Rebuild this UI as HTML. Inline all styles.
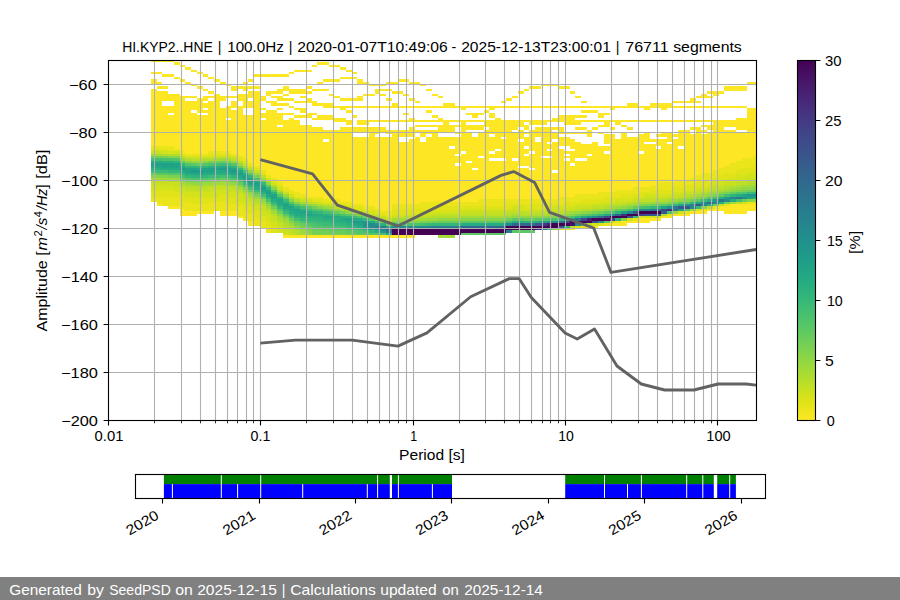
<!DOCTYPE html>
<html><head><meta charset="utf-8"><title>PPSD HI.KYP2..HNE</title>
<style>
html,body{margin:0;padding:0;background:#fff;overflow:hidden}
svg{display:block}
text{font-family:"Liberation Sans",sans-serif;white-space:pre}
</style></head>
<body>
<svg width="900" height="600" viewBox="0 0 900 600">
<defs>
<clipPath id="axclip"><rect x="108.5" y="60.5" width="648" height="360"/></clipPath>
<linearGradient id="cbar" x1="0" y1="0" x2="0" y2="1"><stop offset="0.000" stop-color="#440154"/><stop offset="0.050" stop-color="#471365"/><stop offset="0.100" stop-color="#482475"/><stop offset="0.150" stop-color="#463480"/><stop offset="0.200" stop-color="#414487"/><stop offset="0.250" stop-color="#3b518b"/><stop offset="0.300" stop-color="#355f8d"/><stop offset="0.350" stop-color="#2f6c8e"/><stop offset="0.400" stop-color="#2a788e"/><stop offset="0.450" stop-color="#25848e"/><stop offset="0.500" stop-color="#21908d"/><stop offset="0.550" stop-color="#1e9c89"/><stop offset="0.600" stop-color="#22a884"/><stop offset="0.650" stop-color="#2fb47c"/><stop offset="0.700" stop-color="#44bf70"/><stop offset="0.750" stop-color="#5cc863"/><stop offset="0.800" stop-color="#7ad151"/><stop offset="0.850" stop-color="#9bd93c"/><stop offset="0.900" stop-color="#bddf26"/><stop offset="0.950" stop-color="#dfe318"/><stop offset="1.000" stop-color="#fde725"/></linearGradient>
</defs>
<rect width="900" height="600" fill="#fff"/>
<g shape-rendering="crispEdges" clip-path="url(#axclip)">
<path fill="#fde725" d="M151.00 60.00h22.93v2.40h-22.93zM173.93 62.40h5.73v2.40h-5.73zM317.27 62.40h11.47v2.40h-11.47zM179.67 64.80h5.73v2.40h-5.73zM311.54 64.80h5.73v2.40h-5.73zM328.74 64.80h11.47v2.40h-11.47zM185.40 67.20h5.73v2.40h-5.73zM340.20 67.20h5.73v2.40h-5.73zM191.13 69.60h5.73v2.40h-5.73zM294.34 69.60h17.20v2.40h-17.20zM345.94 69.60h5.73v2.40h-5.73zM151.00 72.00h11.47v2.40h-11.47zM196.87 72.00h5.73v2.40h-5.73zM288.60 72.00h5.73v2.40h-5.73zM351.67 72.00h5.73v2.40h-5.73zM162.47 74.40h11.47v2.40h-11.47zM202.60 74.40h5.73v2.40h-5.73zM254.20 74.40h34.40v2.40h-34.40zM173.93 76.80h5.73v2.40h-5.73zM208.34 76.80h5.73v2.40h-5.73zM340.20 76.80h17.20v2.40h-17.20zM151.00 79.20h5.73v2.40h-5.73zM179.67 79.20h5.73v2.40h-5.73zM214.07 79.20h5.73v2.40h-5.73zM248.47 79.20h5.73v2.40h-5.73zM323.00 79.20h17.20v2.40h-17.20zM357.40 79.20h5.73v2.40h-5.73zM397.54 79.20h11.47v2.40h-11.47zM151.00 81.60h11.47v2.40h-11.47zM185.40 81.60h5.73v2.40h-5.73zM219.80 81.60h5.73v2.40h-5.73zM242.74 81.60h5.73v2.40h-5.73zM317.27 81.60h5.73v2.40h-5.73zM357.40 81.60h11.47v2.40h-11.47zM386.07 81.60h11.47v2.40h-11.47zM409.01 81.60h11.47v2.40h-11.47zM747.28 81.60h11.47v2.40h-11.47zM191.13 84.00h5.73v2.40h-5.73zM225.54 84.00h5.73v2.40h-5.73zM368.87 84.00h17.20v2.40h-17.20zM420.47 84.00h5.73v2.40h-5.73zM540.87 84.00h17.20v2.40h-17.20zM156.73 86.40h11.47v2.40h-11.47zM196.87 86.40h5.73v2.40h-5.73zM231.27 86.40h28.67v2.40h-28.67zM282.87 86.40h5.73v2.40h-5.73zM305.80 86.40h5.73v2.40h-5.73zM529.41 86.40h11.47v2.40h-11.47zM558.07 86.40h11.47v2.40h-11.47zM724.34 86.40h22.93v2.40h-22.93zM151.00 88.80h5.73v2.40h-5.73zM202.60 88.80h5.73v2.40h-5.73zM231.27 88.80h5.73v2.40h-5.73zM242.74 88.80h5.73v2.40h-5.73zM277.14 88.80h28.67v2.40h-28.67zM311.54 88.80h17.20v2.40h-17.20zM374.60 88.80h17.20v2.40h-17.20zM426.21 88.80h5.73v2.40h-5.73zM523.67 88.80h5.73v2.40h-5.73zM724.34 88.80h22.93v2.40h-22.93zM151.00 91.20h17.20v2.40h-17.20zM208.34 91.20h5.73v2.40h-5.73zM248.47 91.20h11.47v2.40h-11.47zM265.67 91.20h17.20v2.40h-17.20zM288.60 91.20h22.93v2.40h-22.93zM374.60 91.20h5.73v2.40h-5.73zM391.80 91.20h11.47v2.40h-11.47zM517.94 91.20h5.73v2.40h-5.73zM569.54 91.20h5.73v2.40h-5.73zM707.14 91.20h17.20v2.40h-17.20zM151.00 93.60h28.67v2.40h-28.67zM214.07 93.60h5.73v2.40h-5.73zM237.00 93.60h22.93v2.40h-22.93zM265.67 93.60h5.73v2.40h-5.73zM282.87 93.60h5.73v2.40h-5.73zM328.74 93.60h5.73v2.40h-5.73zM363.14 93.60h11.47v2.40h-11.47zM380.34 93.60h5.73v2.40h-5.73zM403.27 93.60h5.73v2.40h-5.73zM431.94 93.60h5.73v2.40h-5.73zM701.41 93.60h5.73v2.40h-5.73zM712.88 93.60h5.73v2.40h-5.73zM151.00 96.00h45.87v2.40h-45.87zM202.60 96.00h63.07v2.40h-63.07zM271.40 96.00h11.47v2.40h-11.47zM300.07 96.00h5.73v2.40h-5.73zM334.47 96.00h5.73v2.40h-5.73zM357.40 96.00h5.73v2.40h-5.73zM437.67 96.00h5.73v2.40h-5.73zM512.21 96.00h5.73v2.40h-5.73zM575.27 96.00h5.73v2.40h-5.73zM695.68 96.00h17.20v2.40h-17.20zM151.00 98.40h34.40v2.40h-34.40zM196.87 98.40h11.47v2.40h-11.47zM214.07 98.40h11.47v2.40h-11.47zM237.00 98.40h11.47v2.40h-11.47zM254.20 98.40h11.47v2.40h-11.47zM277.14 98.40h17.20v2.40h-17.20zM305.80 98.40h5.73v2.40h-5.73zM340.20 98.40h22.93v2.40h-22.93zM386.07 98.40h5.73v2.40h-5.73zM409.01 98.40h5.73v2.40h-5.73zM506.47 98.40h5.73v2.40h-5.73zM689.94 98.40h5.73v2.40h-5.73zM151.00 100.80h11.47v2.40h-11.47zM173.93 100.80h28.67v2.40h-28.67zM208.34 100.80h11.47v2.40h-11.47zM231.27 100.80h5.73v2.40h-5.73zM242.74 100.80h17.20v2.40h-17.20zM265.67 100.80h11.47v2.40h-11.47zM294.34 100.80h22.93v2.40h-22.93zM414.74 100.80h5.73v2.40h-5.73zM500.74 100.80h5.73v2.40h-5.73zM581.01 100.80h5.73v2.40h-5.73zM672.74 100.80h28.67v2.40h-28.67zM151.00 103.20h11.47v2.40h-11.47zM173.93 103.20h45.87v2.40h-45.87zM231.27 103.20h5.73v2.40h-5.73zM242.74 103.20h17.20v2.40h-17.20zM271.40 103.20h17.20v2.40h-17.20zM311.54 103.20h22.93v2.40h-22.93zM391.80 103.20h5.73v2.40h-5.73zM443.41 103.20h11.47v2.40h-11.47zM626.88 103.20h11.47v2.40h-11.47zM649.81 103.20h22.93v2.40h-22.93zM151.00 105.60h68.80v2.40h-68.80zM225.54 105.60h34.40v2.40h-34.40zM288.60 105.60h5.73v2.40h-5.73zM323.00 105.60h424.27v2.40h-424.27zM151.00 108.00h51.60v2.40h-51.60zM208.34 108.00h22.93v2.40h-22.93zM237.00 108.00h5.73v2.40h-5.73zM254.20 108.00h11.47v2.40h-11.47zM277.14 108.00h5.73v2.40h-5.73zM294.34 108.00h11.47v2.40h-11.47zM340.20 108.00h5.73v2.40h-5.73zM460.61 108.00h5.73v2.40h-5.73zM489.27 108.00h5.73v2.40h-5.73zM609.68 108.00h5.73v2.40h-5.73zM644.08 108.00h5.73v2.40h-5.73zM661.28 108.00h5.73v2.40h-5.73zM747.28 108.00h11.47v2.40h-11.47zM151.00 110.40h40.13v2.40h-40.13zM196.87 110.40h45.87v2.40h-45.87zM254.20 110.40h5.73v2.40h-5.73zM265.67 110.40h11.47v2.40h-11.47zM300.07 110.40h5.73v2.40h-5.73zM345.94 110.40h5.73v2.40h-5.73zM426.21 110.40h5.73v2.40h-5.73zM483.54 110.40h5.73v2.40h-5.73zM581.01 110.40h17.20v2.40h-17.20zM747.28 110.40h11.47v2.40h-11.47zM151.00 112.80h17.20v2.40h-17.20zM173.93 112.80h22.93v2.40h-22.93zM208.34 112.80h34.40v2.40h-34.40zM254.20 112.80h40.13v2.40h-40.13zM305.80 112.80h11.47v2.40h-11.47zM403.27 112.80h5.73v2.40h-5.73zM466.34 112.80h17.20v2.40h-17.20zM489.27 112.80h5.73v2.40h-5.73zM598.21 112.80h11.47v2.40h-11.47zM747.28 112.80h11.47v2.40h-11.47zM151.00 115.20h131.87v2.40h-131.87zM294.34 115.20h17.20v2.40h-17.20zM317.27 115.20h17.20v2.40h-17.20zM351.67 115.20h5.73v2.40h-5.73zM431.94 115.20h5.73v2.40h-5.73zM472.07 115.20h5.73v2.40h-5.73zM489.27 115.20h5.73v2.40h-5.73zM558.07 115.20h28.67v2.40h-28.67zM598.21 115.20h5.73v2.40h-5.73zM747.28 115.20h11.47v2.40h-11.47zM151.00 117.60h74.53v2.40h-74.53zM231.27 117.60h28.67v2.40h-28.67zM265.67 117.60h17.20v2.40h-17.20zM288.60 117.60h5.73v2.40h-5.73zM311.54 117.60h34.40v2.40h-34.40zM409.01 117.60h5.73v2.40h-5.73zM437.67 117.60h5.73v2.40h-5.73zM495.01 117.60h5.73v2.40h-5.73zM552.34 117.60h22.93v2.40h-22.93zM735.81 117.60h22.93v2.40h-22.93zM151.00 120.00h149.07v2.40h-149.07zM334.47 120.00h17.20v2.40h-17.20zM357.40 120.00h401.34v2.40h-401.34zM151.00 122.40h149.07v2.40h-149.07zM345.94 122.40h5.73v2.40h-5.73zM357.40 122.40h11.47v2.40h-11.47zM443.41 122.40h5.73v2.40h-5.73zM460.61 122.40h5.73v2.40h-5.73zM483.54 122.40h40.13v2.40h-40.13zM529.41 122.40h17.20v2.40h-17.20zM563.81 122.40h17.20v2.40h-17.20zM603.94 122.40h5.73v2.40h-5.73zM615.41 122.40h5.73v2.40h-5.73zM712.88 122.40h45.87v2.40h-45.87zM151.00 124.80h126.14v2.40h-126.14zM282.87 124.80h28.67v2.40h-28.67zM414.74 124.80h114.67v2.40h-114.67zM598.21 124.80h11.47v2.40h-11.47zM621.14 124.80h5.73v2.40h-5.73zM701.41 124.80h57.33v2.40h-57.33zM151.00 127.20h172.00v2.40h-172.00zM340.20 127.20h45.87v2.40h-45.87zM409.01 127.20h5.73v2.40h-5.73zM437.67 127.20h17.20v2.40h-17.20zM460.61 127.20h22.93v2.40h-22.93zM489.27 127.20h28.67v2.40h-28.67zM523.67 127.20h5.73v2.40h-5.73zM535.14 127.20h28.67v2.40h-28.67zM575.27 127.20h11.47v2.40h-11.47zM592.47 127.20h5.73v2.40h-5.73zM609.68 127.20h5.73v2.40h-5.73zM626.88 127.20h5.73v2.40h-5.73zM689.94 127.20h11.47v2.40h-11.47zM707.14 127.20h17.20v2.40h-17.20zM735.81 127.20h22.93v2.40h-22.93zM151.00 129.60h303.87v2.40h-303.87zM460.61 129.60h5.73v2.40h-5.73zM483.54 129.60h28.67v2.40h-28.67zM517.94 129.60h5.73v2.40h-5.73zM529.41 129.60h22.93v2.40h-22.93zM558.07 129.60h5.73v2.40h-5.73zM586.74 129.60h5.73v2.40h-5.73zM678.48 129.60h11.47v2.40h-11.47zM695.68 129.60h11.47v2.40h-11.47zM712.88 129.60h22.93v2.40h-22.93zM747.28 129.60h11.47v2.40h-11.47zM151.00 132.00h200.67v2.40h-200.67zM368.87 132.00h11.47v2.40h-11.47zM386.07 132.00h28.67v2.40h-28.67zM420.47 132.00h17.20v2.40h-17.20zM454.87 132.00h17.20v2.40h-17.20zM477.81 132.00h114.67v2.40h-114.67zM598.21 132.00h5.73v2.40h-5.73zM621.14 132.00h5.73v2.40h-5.73zM644.08 132.00h5.73v2.40h-5.73zM661.28 132.00h11.47v2.40h-11.47zM678.48 132.00h11.47v2.40h-11.47zM695.68 132.00h5.73v2.40h-5.73zM707.14 132.00h51.60v2.40h-51.60zM151.00 134.40h200.67v2.40h-200.67zM368.87 134.40h5.73v2.40h-5.73zM391.80 134.40h22.93v2.40h-22.93zM420.47 134.40h5.73v2.40h-5.73zM431.94 134.40h5.73v2.40h-5.73zM460.61 134.40h11.47v2.40h-11.47zM477.81 134.40h11.47v2.40h-11.47zM495.01 134.40h28.67v2.40h-28.67zM529.41 134.40h28.67v2.40h-28.67zM586.74 134.40h5.73v2.40h-5.73zM603.94 134.40h11.47v2.40h-11.47zM621.14 134.40h5.73v2.40h-5.73zM638.34 134.40h11.47v2.40h-11.47zM655.54 134.40h103.20v2.40h-103.20zM151.00 136.80h246.54v2.40h-246.54zM414.74 136.80h5.73v2.40h-5.73zM426.21 136.80h74.53v2.40h-74.53zM506.47 136.80h28.67v2.40h-28.67zM540.87 136.80h28.67v2.40h-28.67zM603.94 136.80h11.47v2.40h-11.47zM621.14 136.80h28.67v2.40h-28.67zM667.01 136.80h5.73v2.40h-5.73zM678.48 136.80h80.27v2.40h-80.27zM151.00 139.20h172.00v2.40h-172.00zM328.74 139.20h68.80v2.40h-68.80zM409.01 139.20h11.47v2.40h-11.47zM426.21 139.20h91.73v2.40h-91.73zM523.67 139.20h11.47v2.40h-11.47zM540.87 139.20h11.47v2.40h-11.47zM558.07 139.20h17.20v2.40h-17.20zM603.94 139.20h154.80v2.40h-154.80zM151.00 141.60h395.61v2.40h-395.61zM552.34 141.60h28.67v2.40h-28.67zM592.47 141.60h5.73v2.40h-5.73zM603.94 141.60h40.13v2.40h-40.13zM655.54 141.60h11.47v2.40h-11.47zM672.74 141.60h86.00v2.40h-86.00zM151.00 144.00h447.21v2.40h-447.21zM609.68 144.00h149.07v2.40h-149.07zM151.00 146.40h298.14v2.40h-298.14zM454.87 146.40h68.80v2.40h-68.80zM529.41 146.40h28.67v2.40h-28.67zM569.54 146.40h86.00v2.40h-86.00zM661.28 146.40h17.20v2.40h-17.20zM684.21 146.40h74.53v2.40h-74.53zM151.00 148.80h344.01v2.40h-344.01zM500.74 148.80h45.87v2.40h-45.87zM552.34 148.80h11.47v2.40h-11.47zM575.27 148.80h183.47v2.40h-183.47zM151.00 151.20h309.61v2.40h-309.61zM466.34 151.20h22.93v2.40h-22.93zM495.01 151.20h34.40v2.40h-34.40zM535.14 151.20h68.80v2.40h-68.80zM609.68 151.20h28.67v2.40h-28.67zM644.08 151.20h114.67v2.40h-114.67zM151.00 153.60h303.87v2.40h-303.87zM460.61 153.60h63.07v2.40h-63.07zM529.41 153.60h34.40v2.40h-34.40zM569.54 153.60h17.20v2.40h-17.20zM592.47 153.60h166.27v2.40h-166.27zM151.00 156.00h326.81v2.40h-326.81zM483.54 156.00h57.33v2.40h-57.33zM552.34 156.00h206.40v2.40h-206.40zM151.00 158.40h338.27v2.40h-338.27zM506.47 158.40h5.73v2.40h-5.73zM517.94 158.40h45.87v2.40h-45.87zM569.54 158.40h5.73v2.40h-5.73zM586.74 158.40h172.00v2.40h-172.00zM151.00 160.80h315.34v2.40h-315.34zM472.07 160.80h286.67v2.40h-286.67zM151.00 163.20h303.87v2.40h-303.87zM460.61 163.20h108.94v2.40h-108.94zM575.27 163.20h183.47v2.40h-183.47zM151.00 165.60h366.94v2.40h-366.94zM529.41 165.60h229.34v2.40h-229.34zM151.00 168.00h321.07v2.40h-321.07zM477.81 168.00h51.60v2.40h-51.60zM535.14 168.00h223.60v2.40h-223.60zM151.00 170.40h401.34v2.40h-401.34zM558.07 170.40h200.67v2.40h-200.67zM151.00 172.80h607.74v2.40h-607.74zM151.00 175.20h607.74v2.40h-607.74zM151.00 177.60h607.74v2.40h-607.74zM151.00 180.00h607.74v2.40h-607.74zM151.00 182.40h607.74v2.40h-607.74zM151.00 184.80h607.74v2.40h-607.74zM151.00 187.20h607.74v2.40h-607.74zM151.00 189.60h607.74v2.40h-607.74zM151.00 192.00h607.74v2.40h-607.74zM151.00 194.40h607.74v2.40h-607.74zM151.00 196.80h607.74v2.40h-607.74zM151.00 199.20h607.74v2.40h-607.74zM156.73 201.60h602.01v2.40h-602.01zM156.73 204.00h602.01v2.40h-602.01zM168.20 206.40h590.54v2.40h-590.54zM179.67 208.80h579.08v2.40h-579.08zM179.67 211.20h34.40v2.40h-34.40zM219.80 211.20h487.34v2.40h-487.34zM724.34 211.20h22.93v2.40h-22.93zM179.67 213.60h17.20v2.40h-17.20zM219.80 213.60h470.14v2.40h-470.14zM237.00 216.00h435.74v2.40h-435.74zM242.74 218.40h418.54v2.40h-418.54zM248.47 220.80h401.34v2.40h-401.34zM248.47 223.20h378.41v2.40h-378.41zM259.94 225.60h338.27v2.40h-338.27zM265.67 228.00h309.61v2.40h-309.61zM265.67 230.40h269.47v2.40h-269.47zM282.87 232.80h223.60v2.40h-223.60zM282.87 235.20h131.87v2.40h-131.87zM437.67 235.20h17.20v2.40h-17.20z"/>
<path fill="#eae51a" d="M151.00 146.40h22.93v2.40h-22.93zM168.20 148.80h11.47v2.40h-11.47zM179.67 151.20h5.73v2.40h-5.73zM208.34 151.20h22.93v2.40h-22.93zM185.40 153.60h22.93v2.40h-22.93zM231.27 153.60h5.73v2.40h-5.73zM237.00 156.00h5.73v2.40h-5.73zM753.01 156.00h5.73v2.40h-5.73zM242.74 158.40h5.73v2.40h-5.73zM741.54 158.40h17.20v2.40h-17.20zM735.81 160.80h22.93v2.40h-22.93zM248.47 163.20h5.73v2.40h-5.73zM730.08 163.20h28.67v2.40h-28.67zM254.20 165.60h5.73v2.40h-5.73zM724.34 165.60h28.67v2.40h-28.67zM718.61 168.00h22.93v2.40h-22.93zM259.94 170.40h5.73v2.40h-5.73zM712.88 170.40h22.93v2.40h-22.93zM701.41 172.80h22.93v2.40h-22.93zM265.67 175.20h5.73v2.40h-5.73zM695.68 175.20h22.93v2.40h-22.93zM271.40 177.60h5.73v2.40h-5.73zM689.94 177.60h22.93v2.40h-22.93zM271.40 180.00h5.73v2.40h-5.73zM678.48 180.00h22.93v2.40h-22.93zM277.14 182.40h5.73v2.40h-5.73zM655.54 182.40h40.13v2.40h-40.13zM649.81 184.80h34.40v2.40h-34.40zM282.87 187.20h5.73v2.40h-5.73zM632.61 187.20h40.13v2.40h-40.13zM288.60 189.60h5.73v2.40h-5.73zM615.41 189.60h34.40v2.40h-34.40zM288.60 192.00h11.47v2.40h-11.47zM598.21 192.00h40.13v2.40h-40.13zM294.34 194.40h11.47v2.40h-11.47zM575.27 194.40h45.87v2.40h-45.87zM151.00 196.80h28.67v2.40h-28.67zM305.80 196.80h17.20v2.40h-17.20zM558.07 196.80h45.87v2.40h-45.87zM151.00 199.20h28.67v2.40h-28.67zM323.00 199.20h17.20v2.40h-17.20zM477.81 199.20h103.20v2.40h-103.20zM156.73 201.60h34.40v2.40h-34.40zM208.34 201.60h17.20v2.40h-17.20zM334.47 201.60h17.20v2.40h-17.20zM420.47 201.60h143.34v2.40h-143.34zM747.28 201.60h11.47v2.40h-11.47zM162.47 204.00h74.53v2.40h-74.53zM345.94 204.00h17.20v2.40h-17.20zM391.80 204.00h114.67v2.40h-114.67zM724.34 204.00h5.73v2.40h-5.73zM179.67 206.40h63.07v2.40h-63.07zM363.14 206.40h11.47v2.40h-11.47zM391.80 206.40h40.13v2.40h-40.13zM712.88 206.40h5.73v2.40h-5.73zM185.40 208.80h57.33v2.40h-57.33zM374.60 208.80h5.73v2.40h-5.73zM701.41 208.80h5.73v2.40h-5.73zM237.00 211.20h11.47v2.40h-11.47zM380.34 211.20h11.47v2.40h-11.47zM684.21 211.20h5.73v2.40h-5.73zM237.00 213.60h17.20v2.40h-17.20zM386.07 213.60h5.73v2.40h-5.73zM667.01 213.60h5.73v2.40h-5.73zM242.74 216.00h11.47v2.40h-11.47zM248.47 218.40h11.47v2.40h-11.47zM632.61 218.40h5.73v2.40h-5.73zM254.20 220.80h11.47v2.40h-11.47zM615.41 220.80h5.73v2.40h-5.73zM254.20 223.20h11.47v2.40h-11.47zM603.94 223.20h5.73v2.40h-5.73zM259.94 225.60h11.47v2.40h-11.47zM581.01 225.60h5.73v2.40h-5.73zM265.67 228.00h5.73v2.40h-5.73zM563.81 228.00h5.73v2.40h-5.73zM265.67 230.40h5.73v2.40h-5.73z"/>
<path fill="#dfe318" d="M151.00 148.80h17.20v2.40h-17.20zM179.67 153.60h5.73v2.40h-5.73zM208.34 153.60h22.93v2.40h-22.93zM196.87 156.00h5.73v2.40h-5.73zM237.00 158.40h5.73v2.40h-5.73zM242.74 160.80h5.73v2.40h-5.73zM753.01 165.60h5.73v2.40h-5.73zM254.20 168.00h5.73v2.40h-5.73zM741.54 168.00h17.20v2.40h-17.20zM735.81 170.40h22.93v2.40h-22.93zM259.94 172.80h5.73v2.40h-5.73zM724.34 172.80h22.93v2.40h-22.93zM718.61 175.20h17.20v2.40h-17.20zM712.88 177.60h17.20v2.40h-17.20zM701.41 180.00h17.20v2.40h-17.20zM695.68 182.40h17.20v2.40h-17.20zM277.14 184.80h5.73v2.40h-5.73zM684.21 184.80h22.93v2.40h-22.93zM672.74 187.20h22.93v2.40h-22.93zM151.00 189.60h22.93v2.40h-22.93zM282.87 189.60h5.73v2.40h-5.73zM649.81 189.60h34.40v2.40h-34.40zM151.00 192.00h28.67v2.40h-28.67zM638.34 192.00h34.40v2.40h-34.40zM151.00 194.40h34.40v2.40h-34.40zM219.80 194.40h5.73v2.40h-5.73zM621.14 194.40h22.93v2.40h-22.93zM179.67 196.80h57.33v2.40h-57.33zM300.07 196.80h5.73v2.40h-5.73zM603.94 196.80h28.67v2.40h-28.67zM179.67 199.20h57.33v2.40h-57.33zM311.54 199.20h11.47v2.40h-11.47zM581.01 199.20h34.40v2.40h-34.40zM191.13 201.60h17.20v2.40h-17.20zM225.54 201.60h17.20v2.40h-17.20zM323.00 201.60h11.47v2.40h-11.47zM563.81 201.60h34.40v2.40h-34.40zM237.00 204.00h11.47v2.40h-11.47zM340.20 204.00h5.73v2.40h-5.73zM506.47 204.00h68.80v2.40h-68.80zM242.74 206.40h11.47v2.40h-11.47zM351.67 206.40h11.47v2.40h-11.47zM431.94 206.40h80.27v2.40h-80.27zM523.67 206.40h28.67v2.40h-28.67zM242.74 208.80h11.47v2.40h-11.47zM363.14 208.80h11.47v2.40h-11.47zM391.80 208.80h68.80v2.40h-68.80zM695.68 208.80h5.73v2.40h-5.73zM248.47 211.20h11.47v2.40h-11.47zM374.60 211.20h5.73v2.40h-5.73zM391.80 211.20h28.67v2.40h-28.67zM254.20 213.60h5.73v2.40h-5.73zM380.34 213.60h5.73v2.40h-5.73zM254.20 216.00h11.47v2.40h-11.47zM386.07 216.00h5.73v2.40h-5.73zM259.94 218.40h5.73v2.40h-5.73zM265.67 220.80h5.73v2.40h-5.73zM265.67 223.20h5.73v2.40h-5.73zM598.21 223.20h5.73v2.40h-5.73zM271.40 225.60h5.73v2.40h-5.73zM575.27 225.60h5.73v2.40h-5.73zM271.40 228.00h5.73v2.40h-5.73zM271.40 230.40h5.73v2.40h-5.73z"/>
<path fill="#c8e020" d="M151.00 151.20h11.47v2.40h-11.47zM214.07 156.00h17.20v2.40h-17.20zM242.74 163.20h5.73v2.40h-5.73zM254.20 170.40h5.73v2.40h-5.73zM747.28 177.60h11.47v2.40h-11.47zM735.81 180.00h11.47v2.40h-11.47zM151.00 182.40h28.67v2.40h-28.67zM724.34 182.40h11.47v2.40h-11.47zM173.93 184.80h5.73v2.40h-5.73zM712.88 184.80h11.47v2.40h-11.47zM179.67 187.20h5.73v2.40h-5.73zM208.34 187.20h22.93v2.40h-22.93zM707.14 187.20h5.73v2.40h-5.73zM185.40 189.60h28.67v2.40h-28.67zM225.54 189.60h11.47v2.40h-11.47zM695.68 189.60h11.47v2.40h-11.47zM237.00 192.00h5.73v2.40h-5.73zM282.87 192.00h5.73v2.40h-5.73zM684.21 192.00h11.47v2.40h-11.47zM242.74 194.40h5.73v2.40h-5.73zM672.74 194.40h11.47v2.40h-11.47zM242.74 196.80h5.73v2.40h-5.73zM644.08 196.80h22.93v2.40h-22.93zM248.47 199.20h5.73v2.40h-5.73zM300.07 199.20h5.73v2.40h-5.73zM632.61 199.20h5.73v2.40h-5.73zM311.54 201.60h5.73v2.40h-5.73zM615.41 201.60h11.47v2.40h-11.47zM254.20 204.00h5.73v2.40h-5.73zM328.74 204.00h5.73v2.40h-5.73zM592.47 204.00h17.20v2.40h-17.20zM259.94 206.40h5.73v2.40h-5.73zM340.20 206.40h5.73v2.40h-5.73zM575.27 206.40h17.20v2.40h-17.20zM259.94 208.80h5.73v2.40h-5.73zM351.67 208.80h5.73v2.40h-5.73zM512.21 208.80h5.73v2.40h-5.73zM546.61 208.80h28.67v2.40h-28.67zM265.67 211.20h5.73v2.40h-5.73zM363.14 211.20h5.73v2.40h-5.73zM460.61 211.20h45.87v2.40h-45.87zM529.41 211.20h5.73v2.40h-5.73zM374.60 213.60h5.73v2.40h-5.73zM420.47 213.60h17.20v2.40h-17.20zM271.40 216.00h5.73v2.40h-5.73zM380.34 216.00h5.73v2.40h-5.73zM391.80 216.00h11.47v2.40h-11.47zM271.40 218.40h5.73v2.40h-5.73zM386.07 218.40h5.73v2.40h-5.73zM277.14 223.20h5.73v2.40h-5.73zM282.87 228.00h5.73v2.40h-5.73zM282.87 230.40h5.73v2.40h-5.73zM288.60 232.80h5.73v2.40h-5.73z"/>
<path fill="#d2e21b" d="M162.47 151.20h17.20v2.40h-17.20zM185.40 156.00h11.47v2.40h-11.47zM202.60 156.00h11.47v2.40h-11.47zM231.27 156.00h5.73v2.40h-5.73zM248.47 165.60h5.73v2.40h-5.73zM747.28 172.80h11.47v2.40h-11.47zM735.81 175.20h22.93v2.40h-22.93zM265.67 177.60h5.73v2.40h-5.73zM730.08 177.60h17.20v2.40h-17.20zM718.61 180.00h17.20v2.40h-17.20zM271.40 182.40h5.73v2.40h-5.73zM712.88 182.40h11.47v2.40h-11.47zM151.00 184.80h22.93v2.40h-22.93zM707.14 184.80h5.73v2.40h-5.73zM151.00 187.20h28.67v2.40h-28.67zM277.14 187.20h5.73v2.40h-5.73zM695.68 187.20h11.47v2.40h-11.47zM173.93 189.60h11.47v2.40h-11.47zM214.07 189.60h11.47v2.40h-11.47zM684.21 189.60h11.47v2.40h-11.47zM179.67 192.00h57.33v2.40h-57.33zM672.74 192.00h11.47v2.40h-11.47zM185.40 194.40h34.40v2.40h-34.40zM225.54 194.40h17.20v2.40h-17.20zM288.60 194.40h5.73v2.40h-5.73zM644.08 194.40h28.67v2.40h-28.67zM237.00 196.80h5.73v2.40h-5.73zM294.34 196.80h5.73v2.40h-5.73zM632.61 196.80h11.47v2.40h-11.47zM237.00 199.20h11.47v2.40h-11.47zM305.80 199.20h5.73v2.40h-5.73zM615.41 199.20h17.20v2.40h-17.20zM242.74 201.60h11.47v2.40h-11.47zM317.27 201.60h5.73v2.40h-5.73zM598.21 201.60h17.20v2.40h-17.20zM741.54 201.60h5.73v2.40h-5.73zM248.47 204.00h5.73v2.40h-5.73zM334.47 204.00h5.73v2.40h-5.73zM575.27 204.00h17.20v2.40h-17.20zM254.20 206.40h5.73v2.40h-5.73zM345.94 206.40h5.73v2.40h-5.73zM512.21 206.40h11.47v2.40h-11.47zM552.34 206.40h22.93v2.40h-22.93zM254.20 208.80h5.73v2.40h-5.73zM357.40 208.80h5.73v2.40h-5.73zM460.61 208.80h51.60v2.40h-51.60zM517.94 208.80h28.67v2.40h-28.67zM259.94 211.20h5.73v2.40h-5.73zM368.87 211.20h5.73v2.40h-5.73zM420.47 211.20h40.13v2.40h-40.13zM678.48 211.20h5.73v2.40h-5.73zM259.94 213.60h11.47v2.40h-11.47zM391.80 213.60h28.67v2.40h-28.67zM265.67 216.00h5.73v2.40h-5.73zM638.34 216.00h22.93v2.40h-22.93zM265.67 218.40h5.73v2.40h-5.73zM626.88 218.40h5.73v2.40h-5.73zM271.40 220.80h5.73v2.40h-5.73zM609.68 220.80h5.73v2.40h-5.73zM271.40 223.20h5.73v2.40h-5.73zM592.47 223.20h5.73v2.40h-5.73zM277.14 225.60h5.73v2.40h-5.73zM277.14 228.00h5.73v2.40h-5.73zM558.07 228.00h5.73v2.40h-5.73zM277.14 230.40h5.73v2.40h-5.73zM282.87 232.80h5.73v2.40h-5.73z"/>
<path fill="#a5db36" d="M151.00 153.60h11.47v2.40h-11.47zM214.07 158.40h5.73v2.40h-5.73zM225.54 158.40h5.73v2.40h-5.73zM242.74 165.60h5.73v2.40h-5.73zM254.20 172.80h5.73v2.40h-5.73zM151.00 177.60h11.47v2.40h-11.47zM179.67 182.40h5.73v2.40h-5.73zM214.07 182.40h11.47v2.40h-11.47zM196.87 184.80h5.73v2.40h-5.73zM741.54 184.80h11.47v2.40h-11.47zM237.00 187.20h5.73v2.40h-5.73zM730.08 187.20h5.73v2.40h-5.73zM718.61 189.60h5.73v2.40h-5.73zM707.14 192.00h5.73v2.40h-5.73zM248.47 194.40h5.73v2.40h-5.73zM695.68 194.40h5.73v2.40h-5.73zM684.21 196.80h5.73v2.40h-5.73zM667.01 199.20h5.73v2.40h-5.73zM259.94 201.60h5.73v2.40h-5.73zM300.07 201.60h5.73v2.40h-5.73zM638.34 201.60h11.47v2.40h-11.47zM730.08 201.60h5.73v2.40h-5.73zM626.88 204.00h5.73v2.40h-5.73zM265.67 206.40h5.73v2.40h-5.73zM328.74 206.40h5.73v2.40h-5.73zM609.68 206.40h5.73v2.40h-5.73zM340.20 208.80h5.73v2.40h-5.73zM592.47 208.80h5.73v2.40h-5.73zM271.40 211.20h5.73v2.40h-5.73zM351.67 211.20h5.73v2.40h-5.73zM569.54 211.20h5.73v2.40h-5.73zM363.14 213.60h5.73v2.40h-5.73zM512.21 213.60h5.73v2.40h-5.73zM546.61 213.60h11.47v2.40h-11.47zM277.14 216.00h5.73v2.40h-5.73zM460.61 216.00h45.87v2.40h-45.87zM391.80 218.40h34.40v2.40h-34.40zM282.87 220.80h5.73v2.40h-5.73zM386.07 220.80h5.73v2.40h-5.73zM294.34 228.00h5.73v2.40h-5.73zM300.07 232.80h5.73v2.40h-5.73zM437.67 235.20h17.20v2.40h-17.20z"/>
<path fill="#b2dd2d" d="M162.47 153.60h17.20v2.40h-17.20zM185.40 158.40h5.73v2.40h-5.73zM202.60 158.40h11.47v2.40h-11.47zM168.20 180.00h11.47v2.40h-11.47zM747.28 182.40h11.47v2.40h-11.47zM185.40 184.80h11.47v2.40h-11.47zM202.60 184.80h11.47v2.40h-11.47zM225.54 184.80h11.47v2.40h-11.47zM271.40 184.80h5.73v2.40h-5.73zM735.81 184.80h5.73v2.40h-5.73zM724.34 187.20h5.73v2.40h-5.73zM277.14 189.60h5.73v2.40h-5.73zM712.88 189.60h5.73v2.40h-5.73zM242.74 192.00h5.73v2.40h-5.73zM701.41 192.00h5.73v2.40h-5.73zM689.94 194.40h5.73v2.40h-5.73zM288.60 196.80h5.73v2.40h-5.73zM678.48 196.80h5.73v2.40h-5.73zM254.20 199.20h5.73v2.40h-5.73zM294.34 199.20h5.73v2.40h-5.73zM655.54 199.20h11.47v2.40h-11.47zM632.61 201.60h5.73v2.40h-5.73zM317.27 204.00h5.73v2.40h-5.73zM621.14 204.00h5.73v2.40h-5.73zM603.94 206.40h5.73v2.40h-5.73zM581.01 208.80h11.47v2.40h-11.47zM357.40 211.20h5.73v2.40h-5.73zM563.81 211.20h5.73v2.40h-5.73zM506.47 213.60h5.73v2.40h-5.73zM517.94 213.60h28.67v2.40h-28.67zM661.28 213.60h5.73v2.40h-5.73zM374.60 216.00h5.73v2.40h-5.73zM431.94 216.00h28.67v2.40h-28.67zM277.14 218.40h5.73v2.40h-5.73zM380.34 218.40h5.73v2.40h-5.73zM282.87 223.20h5.73v2.40h-5.73zM586.74 223.20h5.73v2.40h-5.73zM288.60 225.60h5.73v2.40h-5.73zM294.34 230.40h5.73v2.40h-5.73zM294.34 232.80h5.73v2.40h-5.73z"/>
<path fill="#70cf57" d="M151.00 156.00h5.73v2.40h-5.73zM214.07 160.80h5.73v2.40h-5.73zM185.40 180.00h22.93v2.40h-22.93zM231.27 180.00h5.73v2.40h-5.73zM248.47 189.60h5.73v2.40h-5.73zM747.28 189.60h5.73v2.40h-5.73zM282.87 196.80h5.73v2.40h-5.73zM689.94 199.20h5.73v2.40h-5.73zM265.67 201.60h5.73v2.40h-5.73zM672.74 201.60h5.73v2.40h-5.73zM724.34 201.60h5.73v2.40h-5.73zM300.07 204.00h5.73v2.40h-5.73zM649.81 204.00h5.73v2.40h-5.73zM712.88 204.00h5.73v2.40h-5.73zM271.40 206.40h5.73v2.40h-5.73zM311.54 206.40h5.73v2.40h-5.73zM277.14 211.20h5.73v2.40h-5.73zM598.21 211.20h5.73v2.40h-5.73zM351.67 213.60h5.73v2.40h-5.73zM575.27 213.60h5.73v2.40h-5.73zM363.14 216.00h5.73v2.40h-5.73zM558.07 216.00h5.73v2.40h-5.73zM506.47 218.40h5.73v2.40h-5.73zM431.94 220.80h5.73v2.40h-5.73zM311.54 230.40h17.20v2.40h-17.20zM328.74 232.80h17.20v2.40h-17.20z"/>
<path fill="#7ad151" d="M156.73 156.00h11.47v2.40h-11.47zM208.34 160.80h5.73v2.40h-5.73zM225.54 160.80h5.73v2.40h-5.73zM242.74 168.00h5.73v2.40h-5.73zM168.20 175.20h11.47v2.40h-11.47zM254.20 175.20h5.73v2.40h-5.73zM208.34 180.00h5.73v2.40h-5.73zM225.54 180.00h5.73v2.40h-5.73zM741.54 189.60h5.73v2.40h-5.73zM724.34 192.00h5.73v2.40h-5.73zM254.20 194.40h5.73v2.40h-5.73zM712.88 194.40h5.73v2.40h-5.73zM701.41 196.80h5.73v2.40h-5.73zM644.08 204.00h5.73v2.40h-5.73zM328.74 208.80h5.73v2.40h-5.73zM340.20 211.20h5.73v2.40h-5.73zM592.47 211.20h5.73v2.40h-5.73zM282.87 216.00h5.73v2.40h-5.73zM380.34 220.80h5.73v2.40h-5.73zM420.47 220.80h11.47v2.40h-11.47zM294.34 223.20h5.73v2.40h-5.73zM300.07 225.60h5.73v2.40h-5.73zM305.80 228.00h5.73v2.40h-5.73zM311.54 232.80h17.20v2.40h-17.20z"/>
<path fill="#86d549" d="M168.20 156.00h11.47v2.40h-11.47zM185.40 160.80h5.73v2.40h-5.73zM202.60 160.80h5.73v2.40h-5.73zM151.00 175.20h17.20v2.40h-17.20zM214.07 180.00h5.73v2.40h-5.73zM237.00 184.80h5.73v2.40h-5.73zM242.74 187.20h5.73v2.40h-5.73zM271.40 187.20h5.73v2.40h-5.73zM753.01 187.20h5.73v2.40h-5.73zM735.81 189.60h5.73v2.40h-5.73zM277.14 192.00h5.73v2.40h-5.73zM718.61 192.00h5.73v2.40h-5.73zM695.68 196.80h5.73v2.40h-5.73zM288.60 199.20h5.73v2.40h-5.73zM684.21 199.20h5.73v2.40h-5.73zM747.28 199.20h5.73v2.40h-5.73zM294.34 201.60h5.73v2.40h-5.73zM667.01 201.60h5.73v2.40h-5.73zM638.34 204.00h5.73v2.40h-5.73zM317.27 206.40h5.73v2.40h-5.73zM626.88 206.40h5.73v2.40h-5.73zM701.41 206.40h5.73v2.40h-5.73zM609.68 208.80h5.73v2.40h-5.73zM586.74 211.20h5.73v2.40h-5.73zM357.40 213.60h5.73v2.40h-5.73zM569.54 213.60h5.73v2.40h-5.73zM540.87 216.00h17.20v2.40h-17.20zM374.60 218.40h5.73v2.40h-5.73zM460.61 218.40h45.87v2.40h-45.87zM621.14 218.40h5.73v2.40h-5.73zM288.60 220.80h5.73v2.40h-5.73zM391.80 220.80h28.67v2.40h-28.67zM305.80 230.40h5.73v2.40h-5.73z"/>
<path fill="#bddf26" d="M179.67 156.00h5.73v2.40h-5.73zM191.13 158.40h11.47v2.40h-11.47zM231.27 158.40h5.73v2.40h-5.73zM237.00 160.80h5.73v2.40h-5.73zM248.47 168.00h5.73v2.40h-5.73zM259.94 175.20h5.73v2.40h-5.73zM151.00 180.00h17.20v2.40h-17.20zM265.67 180.00h5.73v2.40h-5.73zM747.28 180.00h11.47v2.40h-11.47zM735.81 182.40h11.47v2.40h-11.47zM179.67 184.80h5.73v2.40h-5.73zM214.07 184.80h11.47v2.40h-11.47zM724.34 184.80h11.47v2.40h-11.47zM185.40 187.20h22.93v2.40h-22.93zM231.27 187.20h5.73v2.40h-5.73zM712.88 187.20h11.47v2.40h-11.47zM237.00 189.60h5.73v2.40h-5.73zM707.14 189.60h5.73v2.40h-5.73zM695.68 192.00h5.73v2.40h-5.73zM684.21 194.40h5.73v2.40h-5.73zM248.47 196.80h5.73v2.40h-5.73zM667.01 196.80h11.47v2.40h-11.47zM638.34 199.20h17.20v2.40h-17.20zM254.20 201.60h5.73v2.40h-5.73zM305.80 201.60h5.73v2.40h-5.73zM626.88 201.60h5.73v2.40h-5.73zM735.81 201.60h5.73v2.40h-5.73zM259.94 204.00h5.73v2.40h-5.73zM323.00 204.00h5.73v2.40h-5.73zM609.68 204.00h11.47v2.40h-11.47zM718.61 204.00h5.73v2.40h-5.73zM334.47 206.40h5.73v2.40h-5.73zM592.47 206.40h11.47v2.40h-11.47zM707.14 206.40h5.73v2.40h-5.73zM265.67 208.80h5.73v2.40h-5.73zM345.94 208.80h5.73v2.40h-5.73zM575.27 208.80h5.73v2.40h-5.73zM506.47 211.20h22.93v2.40h-22.93zM535.14 211.20h28.67v2.40h-28.67zM271.40 213.60h5.73v2.40h-5.73zM368.87 213.60h5.73v2.40h-5.73zM437.67 213.60h68.80v2.40h-68.80zM403.27 216.00h28.67v2.40h-28.67zM277.14 220.80h5.73v2.40h-5.73zM282.87 225.60h5.73v2.40h-5.73zM569.54 225.60h5.73v2.40h-5.73zM288.60 228.00h5.73v2.40h-5.73zM288.60 230.40h5.73v2.40h-5.73z"/>
<path fill="#44bf70" d="M151.00 158.40h11.47v2.40h-11.47zM214.07 163.20h5.73v2.40h-5.73zM225.54 163.20h5.73v2.40h-5.73zM242.74 170.40h5.73v2.40h-5.73zM179.67 175.20h5.73v2.40h-5.73zM219.80 175.20h5.73v2.40h-5.73zM254.20 177.60h5.73v2.40h-5.73zM237.00 180.00h5.73v2.40h-5.73zM259.94 194.40h5.73v2.40h-5.73zM724.34 194.40h5.73v2.40h-5.73zM712.88 196.80h5.73v2.40h-5.73zM735.81 199.20h5.73v2.40h-5.73zM300.07 206.40h5.73v2.40h-5.73zM644.08 206.40h5.73v2.40h-5.73zM626.88 208.80h5.73v2.40h-5.73zM323.00 211.20h5.73v2.40h-5.73zM592.47 213.60h5.73v2.40h-5.73zM294.34 218.40h5.73v2.40h-5.73zM317.27 223.20h5.73v2.40h-5.73zM420.47 223.20h5.73v2.40h-5.73zM334.47 225.60h11.47v2.40h-11.47zM351.67 228.00h5.73v2.40h-5.73zM363.14 230.40h5.73v2.40h-5.73zM380.34 232.80h5.73v2.40h-5.73z"/>
<path fill="#4cc26c" d="M162.47 158.40h11.47v2.40h-11.47zM208.34 163.20h5.73v2.40h-5.73zM191.13 177.60h11.47v2.40h-11.47zM231.27 177.60h5.73v2.40h-5.73zM248.47 187.20h5.73v2.40h-5.73zM741.54 192.00h5.73v2.40h-5.73zM265.67 199.20h5.73v2.40h-5.73zM271.40 204.00h5.73v2.40h-5.73zM667.01 204.00h5.73v2.40h-5.73zM638.34 206.40h5.73v2.40h-5.73zM311.54 208.80h5.73v2.40h-5.73zM328.74 211.20h5.73v2.40h-5.73zM609.68 211.20h5.73v2.40h-5.73zM667.01 211.20h5.73v2.40h-5.73zM340.20 213.60h5.73v2.40h-5.73zM288.60 216.00h5.73v2.40h-5.73zM569.54 216.00h5.73v2.40h-5.73zM546.61 218.40h11.47v2.40h-11.47zM300.07 220.80h5.73v2.40h-5.73zM311.54 223.20h5.73v2.40h-5.73zM391.80 223.20h28.67v2.40h-28.67zM323.00 225.60h11.47v2.40h-11.47zM345.94 228.00h5.73v2.40h-5.73zM357.40 230.40h5.73v2.40h-5.73z"/>
<path fill="#54c568" d="M173.93 158.40h5.73v2.40h-5.73zM185.40 163.20h5.73v2.40h-5.73zM202.60 163.20h5.73v2.40h-5.73zM231.27 163.20h5.73v2.40h-5.73zM168.20 172.80h11.47v2.40h-11.47zM185.40 177.60h5.73v2.40h-5.73zM202.60 177.60h5.73v2.40h-5.73zM271.40 189.60h5.73v2.40h-5.73zM735.81 192.00h5.73v2.40h-5.73zM277.14 194.40h5.73v2.40h-5.73zM288.60 201.60h5.73v2.40h-5.73zM684.21 201.60h5.73v2.40h-5.73zM294.34 204.00h5.73v2.40h-5.73zM277.14 208.80h5.73v2.40h-5.73zM317.27 208.80h5.73v2.40h-5.73zM684.21 208.80h5.73v2.40h-5.73zM586.74 213.60h5.73v2.40h-5.73zM357.40 216.00h5.73v2.40h-5.73zM368.87 218.40h5.73v2.40h-5.73zM540.87 218.40h5.73v2.40h-5.73zM305.80 223.20h5.73v2.40h-5.73zM311.54 225.60h11.47v2.40h-11.47zM334.47 228.00h11.47v2.40h-11.47zM351.67 230.40h5.73v2.40h-5.73zM368.87 232.80h11.47v2.40h-11.47z"/>
<path fill="#9bd93c" d="M179.67 158.40h5.73v2.40h-5.73zM219.80 158.40h5.73v2.40h-5.73zM196.87 160.80h5.73v2.40h-5.73zM237.00 163.20h5.73v2.40h-5.73zM162.47 177.60h17.20v2.40h-17.20zM259.94 177.60h5.73v2.40h-5.73zM185.40 182.40h5.73v2.40h-5.73zM202.60 182.40h11.47v2.40h-11.47zM225.54 182.40h5.73v2.40h-5.73zM753.01 184.80h5.73v2.40h-5.73zM735.81 187.20h5.73v2.40h-5.73zM242.74 189.60h5.73v2.40h-5.73zM724.34 189.60h5.73v2.40h-5.73zM712.88 192.00h5.73v2.40h-5.73zM282.87 194.40h5.73v2.40h-5.73zM701.41 194.40h5.73v2.40h-5.73zM254.20 196.80h5.73v2.40h-5.73zM689.94 196.80h5.73v2.40h-5.73zM672.74 199.20h5.73v2.40h-5.73zM649.81 201.60h5.73v2.40h-5.73zM311.54 204.00h5.73v2.40h-5.73zM632.61 204.00h5.73v2.40h-5.73zM323.00 206.40h5.73v2.40h-5.73zM615.41 206.40h5.73v2.40h-5.73zM598.21 208.80h5.73v2.40h-5.73zM689.94 208.80h5.73v2.40h-5.73zM575.27 211.20h5.73v2.40h-5.73zM672.74 211.20h5.73v2.40h-5.73zM558.07 213.60h5.73v2.40h-5.73zM506.47 216.00h5.73v2.40h-5.73zM282.87 218.40h5.73v2.40h-5.73zM426.21 218.40h11.47v2.40h-11.47zM288.60 223.20h5.73v2.40h-5.73zM300.07 230.40h5.73v2.40h-5.73z"/>
<path fill="#25ac82" d="M151.00 160.80h11.47v2.40h-11.47zM214.07 165.60h5.73v2.40h-5.73zM225.54 165.60h5.73v2.40h-5.73zM162.47 168.00h17.20v2.40h-17.20zM185.40 172.80h5.73v2.40h-5.73zM202.60 172.80h11.47v2.40h-11.47zM225.54 172.80h5.73v2.40h-5.73zM242.74 172.80h5.73v2.40h-5.73zM242.74 180.00h5.73v2.40h-5.73zM254.20 180.00h5.73v2.40h-5.73zM254.20 187.20h5.73v2.40h-5.73zM735.81 194.40h5.73v2.40h-5.73zM753.01 196.80h5.73v2.40h-5.73zM271.40 199.20h5.73v2.40h-5.73zM707.14 199.20h5.73v2.40h-5.73zM730.08 199.20h5.73v2.40h-5.73zM282.87 201.60h5.73v2.40h-5.73zM277.14 204.00h5.73v2.40h-5.73zM707.14 204.00h5.73v2.40h-5.73zM288.60 211.20h5.73v2.40h-5.73zM305.80 211.20h5.73v2.40h-5.73zM294.34 213.60h11.47v2.40h-11.47zM317.27 213.60h5.73v2.40h-5.73zM334.47 216.00h5.73v2.40h-5.73zM357.40 218.40h5.73v2.40h-5.73zM512.21 220.80h5.73v2.40h-5.73zM535.14 220.80h5.73v2.40h-5.73zM460.61 223.20h45.87v2.40h-45.87zM357.40 225.60h5.73v2.40h-5.73zM363.14 228.00h5.73v2.40h-5.73z"/>
<path fill="#2ab07f" d="M162.47 160.80h11.47v2.40h-11.47zM208.34 165.60h5.73v2.40h-5.73zM151.00 168.00h11.47v2.40h-11.47zM214.07 172.80h11.47v2.40h-11.47zM237.00 177.60h5.73v2.40h-5.73zM259.94 192.00h5.73v2.40h-5.73zM277.14 196.80h5.73v2.40h-5.73zM718.61 196.80h5.73v2.40h-5.73zM718.61 201.60h5.73v2.40h-5.73zM282.87 208.80h5.73v2.40h-5.73zM300.07 208.80h5.73v2.40h-5.73zM632.61 208.80h5.73v2.40h-5.73zM323.00 213.60h5.73v2.40h-5.73zM300.07 216.00h22.93v2.40h-22.93zM340.20 216.00h5.73v2.40h-5.73zM323.00 218.40h17.20v2.40h-17.20zM615.41 218.40h5.73v2.40h-5.73zM334.47 220.80h11.47v2.40h-11.47zM517.94 220.80h11.47v2.40h-11.47zM345.94 223.20h5.73v2.40h-5.73zM380.34 223.20h5.73v2.40h-5.73zM374.60 230.40h5.73v2.40h-5.73z"/>
<path fill="#2fb47c" d="M173.93 160.80h5.73v2.40h-5.73zM185.40 165.60h11.47v2.40h-11.47zM202.60 165.60h5.73v2.40h-5.73zM231.27 165.60h5.73v2.40h-5.73zM179.67 172.80h5.73v2.40h-5.73zM191.13 175.20h11.47v2.40h-11.47zM231.27 175.20h5.73v2.40h-5.73zM248.47 175.20h5.73v2.40h-5.73zM248.47 184.80h5.73v2.40h-5.73zM265.67 187.20h5.73v2.40h-5.73zM271.40 192.00h5.73v2.40h-5.73zM730.08 194.40h5.73v2.40h-5.73zM265.67 196.80h5.73v2.40h-5.73zM288.60 204.00h5.73v2.40h-5.73zM294.34 206.40h5.73v2.40h-5.73zM655.54 206.40h5.73v2.40h-5.73zM311.54 211.20h5.73v2.40h-5.73zM615.41 211.20h5.73v2.40h-5.73zM328.74 213.60h5.73v2.40h-5.73zM294.34 216.00h5.73v2.40h-5.73zM345.94 216.00h5.73v2.40h-5.73zM305.80 218.40h17.20v2.40h-17.20zM328.74 220.80h5.73v2.40h-5.73zM529.41 220.80h5.73v2.40h-5.73zM340.20 223.20h5.73v2.40h-5.73zM351.67 225.60h5.73v2.40h-5.73z"/>
<path fill="#67cc5c" d="M179.67 160.80h5.73v2.40h-5.73zM219.80 160.80h5.73v2.40h-5.73zM196.87 163.20h5.73v2.40h-5.73zM237.00 165.60h5.73v2.40h-5.73zM151.00 172.80h5.73v2.40h-5.73zM179.67 177.60h5.73v2.40h-5.73zM219.80 177.60h5.73v2.40h-5.73zM259.94 180.00h5.73v2.40h-5.73zM237.00 182.40h5.73v2.40h-5.73zM753.01 189.60h5.73v2.40h-5.73zM730.08 192.00h5.73v2.40h-5.73zM259.94 196.80h5.73v2.40h-5.73zM741.54 199.20h5.73v2.40h-5.73zM655.54 204.00h5.73v2.40h-5.73zM632.61 206.40h5.73v2.40h-5.73zM323.00 208.80h5.73v2.40h-5.73zM615.41 208.80h5.73v2.40h-5.73zM334.47 211.20h5.73v2.40h-5.73zM288.60 218.40h5.73v2.40h-5.73zM523.67 218.40h11.47v2.40h-11.47zM294.34 220.80h5.73v2.40h-5.73zM437.67 220.80h22.93v2.40h-22.93zM300.07 223.20h5.73v2.40h-5.73zM386.07 223.20h5.73v2.40h-5.73zM305.80 225.60h5.73v2.40h-5.73zM311.54 228.00h11.47v2.40h-11.47zM328.74 230.40h17.20v2.40h-17.20zM345.94 232.80h11.47v2.40h-11.47z"/>
<path fill="#90d743" d="M191.13 160.80h5.73v2.40h-5.73zM231.27 160.80h5.73v2.40h-5.73zM248.47 170.40h5.73v2.40h-5.73zM179.67 180.00h5.73v2.40h-5.73zM219.80 180.00h5.73v2.40h-5.73zM191.13 182.40h11.47v2.40h-11.47zM231.27 182.40h5.73v2.40h-5.73zM265.67 182.40h5.73v2.40h-5.73zM741.54 187.20h11.47v2.40h-11.47zM730.08 189.60h5.73v2.40h-5.73zM248.47 192.00h5.73v2.40h-5.73zM707.14 194.40h5.73v2.40h-5.73zM259.94 199.20h5.73v2.40h-5.73zM678.48 199.20h5.73v2.40h-5.73zM753.01 199.20h5.73v2.40h-5.73zM655.54 201.60h11.47v2.40h-11.47zM265.67 204.00h5.73v2.40h-5.73zM305.80 204.00h5.73v2.40h-5.73zM621.14 206.40h5.73v2.40h-5.73zM271.40 208.80h5.73v2.40h-5.73zM334.47 208.80h5.73v2.40h-5.73zM603.94 208.80h5.73v2.40h-5.73zM345.94 211.20h5.73v2.40h-5.73zM581.01 211.20h5.73v2.40h-5.73zM277.14 213.60h5.73v2.40h-5.73zM563.81 213.60h5.73v2.40h-5.73zM368.87 216.00h5.73v2.40h-5.73zM512.21 216.00h28.67v2.40h-28.67zM437.67 218.40h22.93v2.40h-22.93zM294.34 225.60h5.73v2.40h-5.73zM300.07 228.00h5.73v2.40h-5.73zM552.34 228.00h5.73v2.40h-5.73zM305.80 232.80h5.73v2.40h-5.73z"/>
<path fill="#1fa188" d="M151.00 163.20h22.93v2.40h-22.93zM208.34 168.00h11.47v2.40h-11.47zM225.54 168.00h5.73v2.40h-5.73zM242.74 175.20h5.73v2.40h-5.73zM254.20 182.40h5.73v2.40h-5.73zM282.87 204.00h5.73v2.40h-5.73zM678.48 208.80h5.73v2.40h-5.73zM621.14 211.20h5.73v2.40h-5.73zM540.87 220.80h5.73v2.40h-5.73zM386.07 225.60h5.73v2.40h-5.73zM368.87 228.00h5.73v2.40h-5.73z"/>
<path fill="#20a486" d="M173.93 163.20h5.73v2.40h-5.73zM162.47 165.60h17.20v2.40h-17.20zM185.40 168.00h11.47v2.40h-11.47zM202.60 168.00h5.73v2.40h-5.73zM231.27 168.00h5.73v2.40h-5.73zM185.40 170.40h5.73v2.40h-5.73zM202.60 170.40h11.47v2.40h-11.47zM225.54 170.40h5.73v2.40h-5.73zM242.74 177.60h11.47v2.40h-11.47zM254.20 184.80h5.73v2.40h-5.73zM265.67 189.60h5.73v2.40h-5.73zM271.40 194.40h5.73v2.40h-5.73zM741.54 194.40h5.73v2.40h-5.73zM271.40 196.80h5.73v2.40h-5.73zM747.28 196.80h5.73v2.40h-5.73zM277.14 199.20h5.73v2.40h-5.73zM695.68 201.60h5.73v2.40h-5.73zM288.60 206.40h5.73v2.40h-5.73zM661.28 206.40h5.73v2.40h-5.73zM294.34 208.80h5.73v2.40h-5.73zM300.07 211.20h5.73v2.40h-5.73zM305.80 213.60h5.73v2.40h-5.73zM345.94 218.40h5.73v2.40h-5.73zM357.40 223.20h5.73v2.40h-5.73z"/>
<path fill="#35b779" d="M179.67 163.20h5.73v2.40h-5.73zM196.87 165.60h5.73v2.40h-5.73zM168.20 170.40h11.47v2.40h-11.47zM185.40 175.20h5.73v2.40h-5.73zM202.60 175.20h5.73v2.40h-5.73zM259.94 182.40h5.73v2.40h-5.73zM753.01 192.00h5.73v2.40h-5.73zM271.40 201.60h5.73v2.40h-5.73zM689.94 201.60h5.73v2.40h-5.73zM672.74 204.00h5.73v2.40h-5.73zM277.14 206.40h5.73v2.40h-5.73zM649.81 206.40h5.73v2.40h-5.73zM695.68 206.40h5.73v2.40h-5.73zM317.27 211.20h5.73v2.40h-5.73zM288.60 213.60h5.73v2.40h-5.73zM598.21 213.60h5.73v2.40h-5.73zM575.27 216.00h5.73v2.40h-5.73zM632.61 216.00h5.73v2.40h-5.73zM300.07 218.40h5.73v2.40h-5.73zM363.14 218.40h5.73v2.40h-5.73zM558.07 218.40h5.73v2.40h-5.73zM317.27 220.80h11.47v2.40h-11.47zM334.47 223.20h5.73v2.40h-5.73zM431.94 223.20h28.67v2.40h-28.67zM345.94 225.60h5.73v2.40h-5.73zM563.81 225.60h5.73v2.40h-5.73zM357.40 228.00h5.73v2.40h-5.73zM546.61 228.00h5.73v2.40h-5.73zM368.87 230.40h5.73v2.40h-5.73z"/>
<path fill="#5cc863" d="M191.13 163.20h5.73v2.40h-5.73zM156.73 172.80h11.47v2.40h-11.47zM248.47 172.80h5.73v2.40h-5.73zM208.34 177.60h11.47v2.40h-11.47zM225.54 177.60h5.73v2.40h-5.73zM242.74 184.80h5.73v2.40h-5.73zM265.67 184.80h5.73v2.40h-5.73zM254.20 192.00h5.73v2.40h-5.73zM718.61 194.40h5.73v2.40h-5.73zM707.14 196.80h5.73v2.40h-5.73zM695.68 199.20h5.73v2.40h-5.73zM678.48 201.60h5.73v2.40h-5.73zM661.28 204.00h5.73v2.40h-5.73zM305.80 206.40h5.73v2.40h-5.73zM621.14 208.80h5.73v2.40h-5.73zM603.94 211.20h5.73v2.40h-5.73zM282.87 213.60h5.73v2.40h-5.73zM345.94 213.60h5.73v2.40h-5.73zM581.01 213.60h5.73v2.40h-5.73zM563.81 216.00h5.73v2.40h-5.73zM512.21 218.40h11.47v2.40h-11.47zM535.14 218.40h5.73v2.40h-5.73zM460.61 220.80h45.87v2.40h-45.87zM603.94 220.80h5.73v2.40h-5.73zM581.01 223.20h5.73v2.40h-5.73zM323.00 228.00h11.47v2.40h-11.47zM345.94 230.40h5.73v2.40h-5.73zM512.21 230.40h22.93v2.40h-22.93zM357.40 232.80h11.47v2.40h-11.47zM460.61 232.80h45.87v2.40h-45.87z"/>
<path fill="#3bbb75" d="M219.80 163.20h5.73v2.40h-5.73zM237.00 168.00h5.73v2.40h-5.73zM151.00 170.40h17.20v2.40h-17.20zM208.34 175.20h11.47v2.40h-11.47zM225.54 175.20h5.73v2.40h-5.73zM242.74 182.40h5.73v2.40h-5.73zM254.20 189.60h5.73v2.40h-5.73zM747.28 192.00h5.73v2.40h-5.73zM282.87 199.20h5.73v2.40h-5.73zM701.41 199.20h5.73v2.40h-5.73zM305.80 208.80h5.73v2.40h-5.73zM282.87 211.20h5.73v2.40h-5.73zM334.47 213.60h5.73v2.40h-5.73zM351.67 216.00h5.73v2.40h-5.73zM305.80 220.80h11.47v2.40h-11.47zM374.60 220.80h5.73v2.40h-5.73zM506.47 220.80h5.73v2.40h-5.73zM323.00 223.20h11.47v2.40h-11.47zM426.21 223.20h5.73v2.40h-5.73z"/>
<path fill="#22a884" d="M151.00 165.60h11.47v2.40h-11.47zM179.67 165.60h5.73v2.40h-5.73zM219.80 165.60h5.73v2.40h-5.73zM196.87 168.00h5.73v2.40h-5.73zM179.67 170.40h5.73v2.40h-5.73zM214.07 170.40h11.47v2.40h-11.47zM237.00 170.40h5.73v2.40h-5.73zM191.13 172.80h11.47v2.40h-11.47zM231.27 172.80h5.73v2.40h-5.73zM237.00 175.20h5.73v2.40h-5.73zM248.47 182.40h5.73v2.40h-5.73zM259.94 184.80h5.73v2.40h-5.73zM259.94 189.60h5.73v2.40h-5.73zM265.67 194.40h5.73v2.40h-5.73zM277.14 201.60h5.73v2.40h-5.73zM678.48 204.00h5.73v2.40h-5.73zM282.87 206.40h5.73v2.40h-5.73zM288.60 208.80h5.73v2.40h-5.73zM294.34 211.20h5.73v2.40h-5.73zM311.54 213.60h5.73v2.40h-5.73zM603.94 213.60h5.73v2.40h-5.73zM323.00 216.00h11.47v2.40h-11.47zM581.01 216.00h5.73v2.40h-5.73zM340.20 218.40h5.73v2.40h-5.73zM351.67 218.40h5.73v2.40h-5.73zM563.81 218.40h5.73v2.40h-5.73zM345.94 220.80h5.73v2.40h-5.73zM368.87 220.80h5.73v2.40h-5.73zM351.67 223.20h5.73v2.40h-5.73zM386.07 232.80h5.73v2.40h-5.73z"/>
<path fill="#1e9c89" d="M179.67 168.00h5.73v2.40h-5.73zM219.80 168.00h5.73v2.40h-5.73zM191.13 170.40h11.47v2.40h-11.47zM231.27 170.40h5.73v2.40h-5.73zM237.00 172.80h5.73v2.40h-5.73zM248.47 180.00h5.73v2.40h-5.73zM259.94 187.20h5.73v2.40h-5.73zM265.67 192.00h5.73v2.40h-5.73zM724.34 196.80h5.73v2.40h-5.73zM351.67 220.80h17.20v2.40h-17.20zM363.14 225.60h5.73v2.40h-5.73z"/>
<path fill="#1f988b" d="M747.28 194.40h5.73v2.40h-5.73zM712.88 199.20h5.73v2.40h-5.73zM684.21 204.00h5.73v2.40h-5.73zM586.74 216.00h5.73v2.40h-5.73zM546.61 220.80h5.73v2.40h-5.73zM374.60 223.20h5.73v2.40h-5.73zM380.34 230.40h5.73v2.40h-5.73z"/>
<path fill="#1f948c" d="M753.01 194.40h5.73v2.40h-5.73zM569.54 218.40h5.73v2.40h-5.73zM598.21 220.80h5.73v2.40h-5.73zM374.60 228.00h5.73v2.40h-5.73z"/>
<path fill="#25848e" d="M730.08 196.80h5.73v2.40h-5.73zM712.88 201.60h5.73v2.40h-5.73zM701.41 204.00h5.73v2.40h-5.73zM426.21 225.60h5.73v2.40h-5.73z"/>
<path fill="#2a788e" d="M735.81 196.80h5.73v2.40h-5.73zM672.74 206.40h5.73v2.40h-5.73zM380.34 228.00h5.73v2.40h-5.73z"/>
<path fill="#21908d" d="M741.54 196.80h5.73v2.40h-5.73zM667.01 206.40h5.73v2.40h-5.73zM552.34 220.80h5.73v2.40h-5.73zM363.14 223.20h5.73v2.40h-5.73zM368.87 225.60h5.73v2.40h-5.73zM391.80 225.60h5.73v2.40h-5.73z"/>
<path fill="#2b748e" d="M718.61 199.20h5.73v2.40h-5.73zM655.54 208.80h5.73v2.40h-5.73zM575.27 218.40h5.73v2.40h-5.73zM558.07 220.80h5.73v2.40h-5.73zM386.07 230.40h5.73v2.40h-5.73z"/>
<path fill="#228c8d" d="M724.34 199.20h5.73v2.40h-5.73zM701.41 201.60h5.73v2.40h-5.73zM638.34 208.80h5.73v2.40h-5.73zM609.68 213.60h5.73v2.40h-5.73zM368.87 223.20h5.73v2.40h-5.73zM397.54 225.60h22.93v2.40h-22.93z"/>
<path fill="#2f6c8e" d="M707.14 201.60h5.73v2.40h-5.73zM523.67 223.20h5.73v2.40h-5.73z"/>
<path fill="#27808e" d="M689.94 204.00h5.73v2.40h-5.73zM374.60 225.60h11.47v2.40h-11.47zM431.94 225.60h5.73v2.40h-5.73z"/>
<path fill="#39568c" d="M695.68 204.00h5.73v2.40h-5.73zM678.48 206.40h11.47v2.40h-11.47zM644.08 213.60h5.73v2.40h-5.73zM592.47 220.80h5.73v2.40h-5.73zM558.07 225.60h5.73v2.40h-5.73z"/>
<path fill="#23888e" d="M689.94 206.40h5.73v2.40h-5.73zM644.08 208.80h5.73v2.40h-5.73zM626.88 211.20h5.73v2.40h-5.73zM592.47 216.00h5.73v2.40h-5.73zM506.47 223.20h5.73v2.40h-5.73zM575.27 223.20h5.73v2.40h-5.73zM420.47 225.60h5.73v2.40h-5.73z"/>
<path fill="#287c8e" d="M649.81 208.80h5.73v2.40h-5.73zM437.67 225.60h22.93v2.40h-22.93zM540.87 228.00h5.73v2.40h-5.73zM506.47 230.40h5.73v2.40h-5.73z"/>
<path fill="#414487" d="M661.28 208.80h5.73v2.40h-5.73zM638.34 213.60h5.73v2.40h-5.73zM603.94 216.00h5.73v2.40h-5.73zM581.01 218.40h5.73v2.40h-5.73zM609.68 218.40h5.73v2.40h-5.73z"/>
<path fill="#472f7d" d="M667.01 208.80h5.73v2.40h-5.73zM621.14 213.60h5.73v2.40h-5.73z"/>
<path fill="#2d708e" d="M672.74 208.80h5.73v2.40h-5.73zM598.21 216.00h5.73v2.40h-5.73zM529.41 223.20h5.73v2.40h-5.73z"/>
<path fill="#375b8d" d="M632.61 211.20h5.73v2.40h-5.73zM661.28 211.20h5.73v2.40h-5.73zM649.81 213.60h5.73v2.40h-5.73zM535.14 223.20h5.73v2.40h-5.73z"/>
<path fill="#440154" d="M638.34 211.20h22.93v2.40h-22.93zM626.88 213.60h11.47v2.40h-11.47zM609.68 216.00h17.20v2.40h-17.20zM592.47 218.40h17.20v2.40h-17.20zM575.27 220.80h11.47v2.40h-11.47zM552.34 223.20h17.20v2.40h-17.20zM506.47 225.60h51.60v2.40h-51.60zM391.80 228.00h143.34v2.40h-143.34zM391.80 230.40h114.67v2.40h-114.67zM391.80 232.80h68.80v2.40h-68.80z"/>
<path fill="#32648e" d="M615.41 213.60h5.73v2.40h-5.73zM489.27 225.60h17.20v2.40h-17.20z"/>
<path fill="#355f8d" d="M655.54 213.60h5.73v2.40h-5.73z"/>
<path fill="#3b518b" d="M626.88 216.00h5.73v2.40h-5.73z"/>
<path fill="#481a6c" d="M586.74 218.40h5.73v2.40h-5.73z"/>
<path fill="#3f4889" d="M563.81 220.80h5.73v2.40h-5.73z"/>
<path fill="#46075a" d="M569.54 220.80h5.73v2.40h-5.73zM586.74 220.80h5.73v2.40h-5.73z"/>
<path fill="#31688e" d="M512.21 223.20h11.47v2.40h-11.47zM460.61 225.60h28.67v2.40h-28.67zM386.07 228.00h5.73v2.40h-5.73z"/>
<path fill="#443983" d="M540.87 223.20h5.73v2.40h-5.73z"/>
<path fill="#481f70" d="M546.61 223.20h5.73v2.40h-5.73z"/>
<path fill="#471365" d="M569.54 223.20h5.73v2.40h-5.73z"/>
<path fill="#482475" d="M535.14 228.00h5.73v2.40h-5.73z"/>
</g>
<path d="M154.5 60.0V420.0M181.5 60.0V420.0M200.5 60.0V420.0M215.5 60.0V420.0M227.5 60.0V420.0M237.5 60.0V420.0M246.5 60.0V420.0M253.5 60.0V420.0M260.5 60.0V420.0M306.5 60.0V420.0M333.5 60.0V420.0M352.5 60.0V420.0M367.5 60.0V420.0M379.5 60.0V420.0M389.5 60.0V420.0M398.5 60.0V420.0M406.5 60.0V420.0M413.5 60.0V420.0M459.5 60.0V420.0M485.5 60.0V420.0M504.5 60.0V420.0M519.5 60.0V420.0M531.5 60.0V420.0M542.5 60.0V420.0M550.5 60.0V420.0M558.5 60.0V420.0M565.5 60.0V420.0M611.5 60.0V420.0M638.5 60.0V420.0M657.5 60.0V420.0M672.5 60.0V420.0M684.5 60.0V420.0M694.5 60.0V420.0M703.5 60.0V420.0M711.5 60.0V420.0M717.5 60.0V420.0M108.0 372.5H756.0M108.0 324.5H756.0M108.0 276.5H756.0M108.0 228.5H756.0M108.0 180.5H756.0M108.0 132.5H756.0M108.0 84.5H756.0" stroke="#b0b0b0" stroke-width="1.11" fill="none"/>
<polyline clip-path="url(#axclip)" points="260.37,159.60 312.54,173.76 337.34,205.20 397.97,225.96 501.08,175.37 513.72,171.60 534.53,182.40 549.51,212.40 593.68,227.98 610.97,272.40 756.00,249.53" fill="none" stroke="#626262" stroke-width="2.85" stroke-linejoin="round" stroke-linecap="butt"/>
<polyline clip-path="url(#axclip)" points="260.37,343.20 295.48,340.08 352.10,340.08 397.97,346.08 426.97,332.88 470.67,296.76 509.26,278.64 519.24,278.64 531.30,297.60 565.10,333.00 577.17,339.00 594.53,329.11 616.98,366.00 641.24,384.00 664.63,390.00 693.87,390.00 718.13,384.00 746.05,384.00 756.00,385.15" fill="none" stroke="#626262" stroke-width="2.85" stroke-linejoin="round" stroke-linecap="butt"/>
<rect x="108.5" y="60.5" width="648.0" height="360.0" fill="none" stroke="#000" stroke-width="1.11"/>
<path d="M108.5 420.5h-4.9M108.5 372.5h-4.9M108.5 324.5h-4.9M108.5 276.5h-4.9M108.5 228.5h-4.9M108.5 180.5h-4.9M108.5 132.5h-4.9M108.5 84.5h-4.9M108.5 420.5v4.9M260.5 420.5v4.9M413.5 420.5v4.9M565.5 420.5v4.9M717.5 420.5v4.9" stroke="#000" stroke-width="1.11" fill="none"/>
<path d="M154.5 420.5v2.8M181.5 420.5v2.8M200.5 420.5v2.8M215.5 420.5v2.8M227.5 420.5v2.8M237.5 420.5v2.8M246.5 420.5v2.8M253.5 420.5v2.8M260.5 420.5v2.8M306.5 420.5v2.8M333.5 420.5v2.8M352.5 420.5v2.8M367.5 420.5v2.8M379.5 420.5v2.8M389.5 420.5v2.8M398.5 420.5v2.8M406.5 420.5v2.8M413.5 420.5v2.8M459.5 420.5v2.8M485.5 420.5v2.8M504.5 420.5v2.8M519.5 420.5v2.8M531.5 420.5v2.8M542.5 420.5v2.8M550.5 420.5v2.8M558.5 420.5v2.8M565.5 420.5v2.8M611.5 420.5v2.8M638.5 420.5v2.8M657.5 420.5v2.8M672.5 420.5v2.8M684.5 420.5v2.8M694.5 420.5v2.8M703.5 420.5v2.8M711.5 420.5v2.8M717.5 420.5v2.8" stroke="#000" stroke-width="0.83" fill="none"/>
<rect x="0" y="577" width="900" height="23" fill="#808080"/>
<text x="399.10" y="460.30" font-size="14.2" fill="#000" textLength="65.80" lengthAdjust="spacingAndGlyphs">Period [s]</text>
<text x="61.20" y="425.50" font-size="14.2" fill="#000" textLength="36.70" lengthAdjust="spacingAndGlyphs">−200</text>
<text x="61.00" y="377.50" font-size="14.2" fill="#000" textLength="36.90" lengthAdjust="spacingAndGlyphs">−180</text>
<text x="61.00" y="329.50" font-size="14.2" fill="#000" textLength="36.90" lengthAdjust="spacingAndGlyphs">−160</text>
<text x="61.10" y="281.50" font-size="14.2" fill="#000" textLength="36.80" lengthAdjust="spacingAndGlyphs">−140</text>
<text x="61.10" y="233.50" font-size="14.2" fill="#000" textLength="36.80" lengthAdjust="spacingAndGlyphs">−120</text>
<text x="61.10" y="185.50" font-size="14.2" fill="#000" textLength="36.80" lengthAdjust="spacingAndGlyphs">−100</text>
<text x="69.00" y="137.50" font-size="14.2" fill="#000" textLength="27.90" lengthAdjust="spacingAndGlyphs">−80</text>
<text x="69.00" y="89.50" font-size="14.2" fill="#000" textLength="27.90" lengthAdjust="spacingAndGlyphs">−60</text>
<text x="94.60" y="440.70" font-size="14.2" fill="#000" textLength="28.80" lengthAdjust="spacingAndGlyphs">0.01</text>
<text x="250.60" y="440.70" font-size="14.2" fill="#000" textLength="19.80" lengthAdjust="spacingAndGlyphs">0.1</text>
<text x="410.30" y="440.70" font-size="14.2" fill="#000" textLength="6.90" lengthAdjust="spacingAndGlyphs">1</text>
<text x="558.30" y="440.70" font-size="14.2" fill="#000" textLength="15.60" lengthAdjust="spacingAndGlyphs">10</text>
<text x="706.30" y="440.70" font-size="14.2" fill="#000" textLength="24.40" lengthAdjust="spacingAndGlyphs">100</text>
<text x="826.70" y="425.50" font-size="14.2" fill="#000" textLength="8.00" lengthAdjust="spacingAndGlyphs">0</text>
<text x="825.10" y="365.50" font-size="14.2" fill="#000" textLength="8.80" lengthAdjust="spacingAndGlyphs">5</text>
<text x="826.90" y="305.50" font-size="14.2" fill="#000" textLength="15.80" lengthAdjust="spacingAndGlyphs">10</text>
<text x="826.90" y="245.50" font-size="14.2" fill="#000" textLength="15.80" lengthAdjust="spacingAndGlyphs">15</text>
<text x="825.10" y="185.50" font-size="14.2" fill="#000" textLength="17.50" lengthAdjust="spacingAndGlyphs">20</text>
<text x="825.10" y="125.50" font-size="14.2" fill="#000" textLength="16.50" lengthAdjust="spacingAndGlyphs">25</text>
<text x="825.10" y="65.50" font-size="14.2" fill="#000" textLength="16.50" lengthAdjust="spacingAndGlyphs">30</text>
<text x="859.90" y="253.90" font-size="14.2" fill="#000" textLength="23.00" lengthAdjust="spacingAndGlyphs" transform="rotate(-90 859.90 253.90)">[%]</text>
<text x="129.53" y="535.70" font-size="14.2" fill="#000" textLength="35.00" lengthAdjust="spacingAndGlyphs" transform="rotate(-30 129.53 535.70)">2020</text>
<text x="226.17" y="535.70" font-size="14.2" fill="#000" textLength="35.00" lengthAdjust="spacingAndGlyphs" transform="rotate(-30 226.17 535.70)">2021</text>
<text x="322.55" y="535.70" font-size="14.2" fill="#000" textLength="35.00" lengthAdjust="spacingAndGlyphs" transform="rotate(-30 322.55 535.70)">2022</text>
<text x="418.92" y="535.70" font-size="14.2" fill="#000" textLength="35.00" lengthAdjust="spacingAndGlyphs" transform="rotate(-30 418.92 535.70)">2023</text>
<text x="515.29" y="535.70" font-size="14.2" fill="#000" textLength="35.00" lengthAdjust="spacingAndGlyphs" transform="rotate(-30 515.29 535.70)">2024</text>
<text x="611.93" y="535.70" font-size="14.2" fill="#000" textLength="35.00" lengthAdjust="spacingAndGlyphs" transform="rotate(-30 611.93 535.70)">2025</text>
<text x="708.31" y="535.70" font-size="14.2" fill="#000" textLength="35.00" lengthAdjust="spacingAndGlyphs" transform="rotate(-30 708.31 535.70)">2026</text>
<text x="46.60" y="331.40" font-size="14.2" fill="#000" textLength="80.00" lengthAdjust="spacingAndGlyphs" transform="rotate(-90 46.60 331.40)">Amplitude [</text>
<text x="46.60" y="250.40" font-size="14.2" fill="#000" textLength="13.50" lengthAdjust="spacingAndGlyphs" transform="rotate(-90 46.60 250.40)" font-style="italic">m</text>
<text x="42.00" y="236.60" font-size="10" fill="#000" textLength="6.20" lengthAdjust="spacingAndGlyphs" transform="rotate(-90 42.00 236.60)">2</text>
<text x="46.60" y="229.50" font-size="14.2" fill="#000" textLength="11.90" lengthAdjust="spacingAndGlyphs" transform="rotate(-90 46.60 229.50)" font-style="italic">/s</text>
<text x="42.00" y="217.30" font-size="10" fill="#000" textLength="6.20" lengthAdjust="spacingAndGlyphs" transform="rotate(-90 42.00 217.30)">4</text>
<text x="46.60" y="210.00" font-size="14.2" fill="#000" textLength="21.50" lengthAdjust="spacingAndGlyphs" transform="rotate(-90 46.60 210.00)" font-style="italic">/Hz</text>
<text x="46.60" y="188.80" font-size="14.2" fill="#000" textLength="4.50" lengthAdjust="spacingAndGlyphs" transform="rotate(-90 46.60 188.80)">]</text>
<text x="46.60" y="178.80" font-size="14.2" fill="#000" textLength="29.20" lengthAdjust="spacingAndGlyphs" transform="rotate(-90 46.60 178.80)">[dB]</text>
<text x="122.20" y="52.40" font-size="14.2" fill="#000" textLength="90.60" lengthAdjust="spacingAndGlyphs">HI.KYP2..HNE</text>
<text x="217.80" y="52.40" font-size="14.2" fill="#000">|</text>
<text x="227.20" y="52.40" font-size="14.2" fill="#000" textLength="56.60" lengthAdjust="spacingAndGlyphs">100.0Hz</text>
<text x="288.80" y="52.40" font-size="14.2" fill="#000">|</text>
<text x="297.20" y="52.40" font-size="14.2" fill="#000" textLength="150.60" lengthAdjust="spacingAndGlyphs">2020-01-07T10:49:06</text>
<text x="451.40" y="52.40" font-size="14.2" fill="#000">-</text>
<text x="461.20" y="52.40" font-size="14.2" fill="#000" textLength="149.60" lengthAdjust="spacingAndGlyphs">2025-12-13T23:00:01</text>
<text x="615.80" y="52.40" font-size="14.2" fill="#000">|</text>
<text x="625.20" y="52.40" font-size="14.2" fill="#000" textLength="43.60" lengthAdjust="spacingAndGlyphs">76711</text>
<text x="673.20" y="52.40" font-size="14.2" fill="#000" textLength="68.60" lengthAdjust="spacingAndGlyphs">segments</text>
<text x="9.20" y="595.00" font-size="14.2" fill="#fff" textLength="72.60" lengthAdjust="spacingAndGlyphs">Generated</text>
<text x="87.20" y="595.00" font-size="14.2" fill="#fff" textLength="16.70" lengthAdjust="spacingAndGlyphs">by</text>
<text x="109.20" y="595.00" font-size="14.2" fill="#fff" textLength="61.60" lengthAdjust="spacingAndGlyphs">SeedPSD</text>
<text x="175.20" y="595.00" font-size="14.2" fill="#fff" textLength="17.60" lengthAdjust="spacingAndGlyphs">on</text>
<text x="197.20" y="595.00" font-size="14.2" fill="#fff" textLength="79.60" lengthAdjust="spacingAndGlyphs">2025-12-15</text>
<text x="281.80" y="595.00" font-size="14.2" fill="#fff">|</text>
<text x="290.20" y="595.00" font-size="14.2" fill="#fff" textLength="85.60" lengthAdjust="spacingAndGlyphs">Calculations</text>
<text x="380.20" y="595.00" font-size="14.2" fill="#fff" textLength="56.60" lengthAdjust="spacingAndGlyphs">updated</text>
<text x="442.20" y="595.00" font-size="14.2" fill="#fff" textLength="16.60" lengthAdjust="spacingAndGlyphs">on</text>
<text x="464.20" y="595.00" font-size="14.2" fill="#fff" textLength="78.70" lengthAdjust="spacingAndGlyphs">2025-12-14</text>
<rect x="797.4" y="60.0" width="18.0" height="360.0" fill="url(#cbar)"/>
<rect x="797.5" y="60.5" width="18.0" height="360.0" fill="none" stroke="#000" stroke-width="1.11"/>
<path d="M815.5 420.5h4.9M815.5 360.5h4.9M815.5 300.5h4.9M815.5 240.5h4.9M815.5 180.5h4.9M815.5 120.5h4.9M815.5 60.5h4.9" stroke="#000" stroke-width="1.11" fill="none"/>
<rect x="163.9" y="474.5" width="288.1" height="9.6" fill="#008000"/>
<rect x="163.9" y="484.1" width="288.1" height="14.4" fill="#0000ff"/>
<rect x="565.2" y="474.5" width="170.7" height="9.6" fill="#008000"/>
<rect x="565.2" y="484.1" width="170.7" height="14.4" fill="#0000ff"/>
<rect x="220.80" y="474.5" width="1.00" height="24" fill="#fff"/>
<rect x="260.20" y="474.5" width="1.00" height="24" fill="#fff"/>
<rect x="377.10" y="474.5" width="1.00" height="24" fill="#fff"/>
<rect x="389.80" y="474.5" width="2.20" height="24" fill="#fff"/>
<rect x="397.90" y="474.5" width="1.00" height="24" fill="#fff"/>
<rect x="604.00" y="474.5" width="1.00" height="24" fill="#fff"/>
<rect x="640.90" y="474.5" width="1.00" height="24" fill="#fff"/>
<rect x="686.20" y="474.5" width="1.00" height="24" fill="#fff"/>
<rect x="702.30" y="474.5" width="1.00" height="24" fill="#fff"/>
<rect x="713.80" y="474.5" width="3.40" height="24" fill="#fff"/>
<rect x="729.20" y="474.5" width="1.00" height="24" fill="#fff"/>
<rect x="171.90" y="484.1" width="1.00" height="14.4" fill="#fff"/>
<rect x="237.10" y="484.1" width="1.00" height="14.4" fill="#fff"/>
<rect x="302.20" y="484.1" width="1.00" height="14.4" fill="#fff"/>
<rect x="366.80" y="484.1" width="1.00" height="14.4" fill="#fff"/>
<rect x="431.90" y="484.1" width="1.00" height="14.4" fill="#fff"/>
<rect x="627.00" y="484.1" width="1.00" height="14.4" fill="#fff"/>
<rect x="135.5" y="474.5" width="630" height="24" fill="none" stroke="#000" stroke-width="1.11"/>
<path d="M162.5 498.5v4.9M259.5 498.5v4.9M355.5 498.5v4.9M451.5 498.5v4.9M548.5 498.5v4.9M644.5 498.5v4.9M741.5 498.5v4.9" stroke="#000" stroke-width="1.11" fill="none"/>
</svg>
</body></html>
